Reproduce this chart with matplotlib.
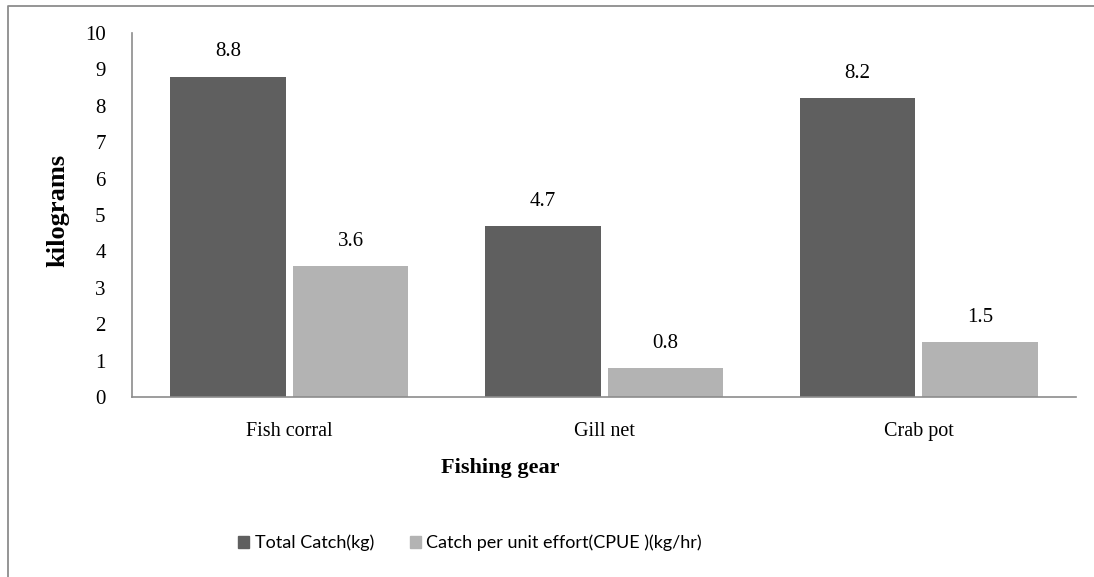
import matplotlib.pyplot as plt
import numpy as np
from matplotlib.patches import Patch

# catch data per gear type
gears = ['Fish corral', 'Gill net', 'Crab pot']
total_catch = [8.8, 4.7, 8.2]
cpue = [3.6, 0.8, 1.5]
series_names = ['Total Catch(kg)', 'Catch per unit effort(CPUE )(kg/hr)']
y_ticks = list(range(0, 11))

dark = '#5f5f5f'
light = '#b3b3b3'
serif = 'Liberation Serif'

fig = plt.figure(figsize=(10.94, 5.77), dpi=100)
ax = fig.add_axes([0.1207, 0.312, 0.863, 0.631])

x = np.arange(len(gears))
w = 0.367
gap = 0.011
b1 = ax.bar(x - w / 2 - gap, total_catch, w, color=dark)
b2 = ax.bar(x + w / 2 + gap, cpue, w, color=light)

# value labels above each bar
for bars, vals in [(b1, total_catch), (b2, cpue)]:
    for rect, v in zip(bars, vals):
        ax.text(rect.get_x() + rect.get_width() / 2, v + 0.42, f'{v:.1f}',
                ha='center', va='bottom', fontsize=15, family=serif)

ax.set_xlim(-0.5, 2.5)
ax.set_ylim(0, 10)
ax.set_yticks(y_ticks)
ax.set_yticklabels([str(t) for t in y_ticks], family=serif, fontsize=15)
ax.set_xticks(x)
ax.set_xticklabels(gears, family=serif, fontsize=14.5)
ax.tick_params(axis='y', length=0, pad=19)
ax.tick_params(axis='x', length=0, pad=18)

for side in ['top', 'right']:
    ax.spines[side].set_visible(False)
for side in ['left', 'bottom']:
    ax.spines[side].set_color('#8c8c8c')
    ax.spines[side].set_linewidth(1.2)

fig.text(58 / 1094, 1 - 210 / 577, 'kilograms', family=serif, fontsize=19,
         fontweight='bold', rotation=90, ha='center', va='center')
fig.text(500 / 1094, 1 - 468 / 577, 'Fishing gear', family=serif, fontsize=16,
         fontweight='bold', ha='center', va='center')

# legend below the plot
handles = [Patch(color=dark), Patch(color=light)]
fig.legend(handles, series_names, loc='center', bbox_to_anchor=(470 / 1094, 1 - 543 / 577),
           ncol=2, frameon=False, prop={'family': 'Lato', 'size': 13},
           handlelength=0.6, handleheight=0.6, handletextpad=0.3, columnspacing=2.0)

# outer frame line on the left and top
fig.add_artist(plt.Line2D([8 / 1094, 8 / 1094, 1.0], [0.0, 1 - 6 / 577, 1 - 6 / 577],
                          transform=fig.transFigure, color='#8c8c8c', lw=1.3))

fig.savefig('out.png', dpi=100)
